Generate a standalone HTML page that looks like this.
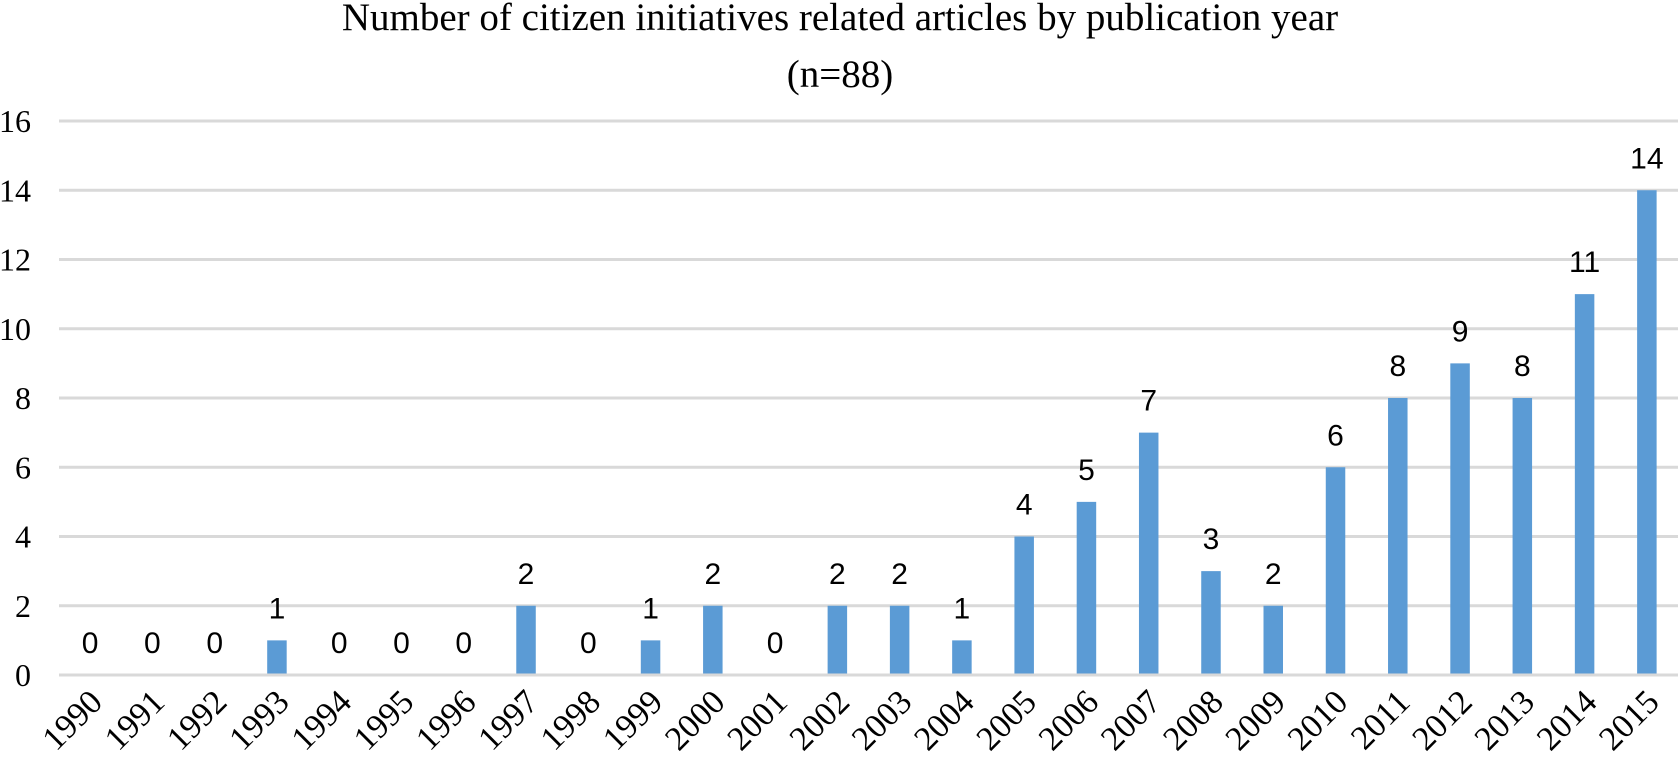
<!DOCTYPE html>
<html><head><meta charset="utf-8"><style>
html,body{margin:0;padding:0;background:#fff;}
svg{display:block;}
</style></head><body>
<svg id="chart" width="1679" height="766" xmlns="http://www.w3.org/2000/svg">
<text x="840" y="30" text-anchor="middle" font-family="Liberation Serif, serif" font-size="39" fill="#000">Number of citizen initiatives related articles by publication year</text>
<text x="840" y="87" text-anchor="middle" font-family="Liberation Serif, serif" font-size="39" fill="#000">(n=88)</text>
<g id="grid"></g><g id="bars"></g><g id="labels"></g><g id="yticks"></g><g id="xticks"></g>
</svg>
<script>
const categories = ["1990","1991","1992","1993","1994","1995","1996","1997","1998","1999","2000","2001","2002","2003","2004","2005","2006","2007","2008","2009","2010","2011","2012","2013","2014","2015"];
const values = [0,0,0,1,0,0,0,2,0,1,2,0,2,2,1,4,5,7,3,2,6,8,9,8,11,14];
const yTicks = [0,2,4,6,8,10,12,14,16];

const NS = "http://www.w3.org/2000/svg";
const plotL = 59, plotR = 1678, y0 = 675, yTop = 121, yMax = 16;
const band = (plotR - plotL) / categories.length;
const barW = 19.5;
function yScale(v){ return y0 - (y0 - yTop) * v / yMax; }
function xCenter(i){ return plotL + band * (i + 0.5); }
function mk(tag, attrs, parent){ const e = document.createElementNS(NS, tag); for (const k in attrs) e.setAttribute(k, attrs[k]); parent.appendChild(e); return e; }

const grid = document.getElementById('grid'), yt = document.getElementById('yticks');
yTicks.forEach(t => {
  const l = mk('line', {x1: plotL, x2: plotR, y1: yScale(t), y2: yScale(t), stroke: '#d9d9d9', 'stroke-width': 3}, grid);
  
  
  const tx = mk('text', {x: 31, y: yScale(t) + 11, 'text-anchor': 'end', 'font-family': 'Liberation Serif, serif', 'font-size': 32, fill: '#000'}, yt);
  tx.textContent = t;
  
  
});

const bars = document.getElementById('bars'), lab = document.getElementById('labels'), xt = document.getElementById('xticks');
categories.forEach((c, i) => {
  const v = values[i], cx = xCenter(i);
  if (v > 0) {
    const r = mk('rect', {x: cx - barW/2, y: yScale(v), width: barW, height: y0 - yScale(v) - 1.5, fill: '#5b9bd5'}, bars);
    
    
  }
  const t = mk('text', {x: cx, y: yScale(v) - 22, 'text-anchor': 'middle', 'font-family': 'Liberation Sans, sans-serif', 'font-size': 30, fill: '#000'}, lab);
  t.textContent = v;
  
  
  const xl = mk('text', {x: 0, y: 0, 'text-anchor': 'end', 'font-family': 'Liberation Serif, serif', 'font-size': 34, fill: '#000', transform: 'translate(' + (cx + 14) + ',' + 704 + ') rotate(-45)'}, xt);
  xl.textContent = c;
  
  
});
</script>
</body></html>
